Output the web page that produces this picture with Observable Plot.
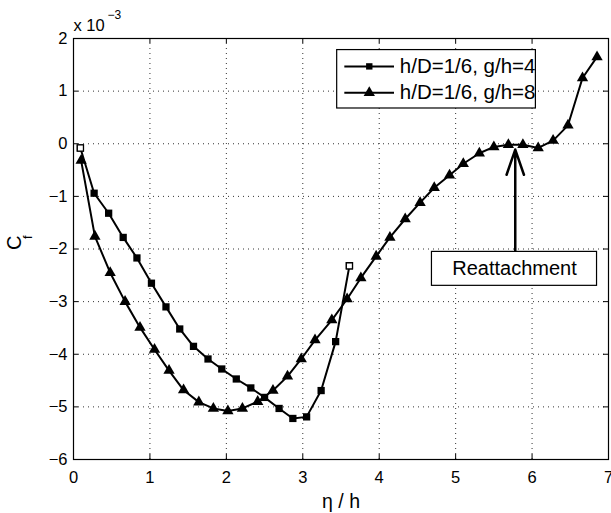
<!DOCTYPE html>
<html><head><meta charset="utf-8">
<script src="https://cdn.jsdelivr.net/npm/d3@7"></script>
<script src="https://cdn.jsdelivr.net/npm/@observablehq/plot@0.6"></script>
<style>
html,body{margin:0;padding:0;background:#fff;}
#chart{width:611px;height:513px;}
</style>
</head><body><div id="chart"></div>
<script>
// Data (Cf values in units of 1e-3)
const etaG4 = [0.09, 0.27, 0.46, 0.65, 0.83, 1.02, 1.21, 1.39, 1.57, 1.76, 1.94, 2.13, 2.32, 2.50, 2.69, 2.87, 3.05, 3.24, 3.43, 3.61];
const cfG4  = [-0.08, -0.94, -1.32, -1.78, -2.17, -2.65, -3.10, -3.52, -3.85, -4.09, -4.28, -4.47, -4.64, -4.82, -5.03, -5.22, -5.19, -4.69, -3.76, -2.32];
const etaG8 = [0.10, 0.28, 0.48, 0.675, 0.87, 1.06, 1.25, 1.44, 1.64, 1.83, 2.02, 2.21, 2.41, 2.61, 2.80, 2.98, 3.16, 3.38, 3.58, 3.76, 3.96, 4.14, 4.34, 4.535, 4.72, 4.92, 5.10, 5.31, 5.50, 5.69, 5.88, 6.08, 6.275, 6.47, 6.66, 6.85];
const cfG8  = [-0.32, -1.76, -2.45, -3.00, -3.49, -3.91, -4.31, -4.68, -4.91, -5.03, -5.08, -5.03, -4.90, -4.69, -4.42, -4.09, -3.73, -3.35, -2.95, -2.55, -2.14, -1.78, -1.43, -1.12, -0.835, -0.60, -0.38, -0.18, -0.06, -0.02, -0.02, -0.08, 0.06, 0.35, 1.25, 1.65];
const seriesNames = ["h/D=1/6, g/h=4", "h/D=1/6, g/h=8"];
const xTicks = [0, 1, 2, 3, 4, 5, 6, 7];
const yTicks = [-6, -5, -4, -3, -2, -1, 0, 1, 2];
const xLabel = "η / h";
const scaleText = ["x 10", "−3"];
const annotationText = "Reattachment";
const reattachEta = 5.78;

const g4 = etaG4.map((x, i) => ({x, y: cfG4[i], i}));
const g8 = etaG8.map((x, i) => ({x, y: cfG8[i]}));
const g4Ends = g4.filter(d => d.i === 0 || d.i === g4.length - 1);

const W = 611, H = 513, mL = 73, mR = 3, mT = 38, mB = 54;
const fw = W - mL - mR, fh = H - mT - mB;
const font = "'Liberation Sans', Arial, Helvetica, sans-serif";
const fmt = d => (d < 0 ? "−" : "") + Math.abs(d);

// legend / annotation geometry (data units)
const lg = {x1: 3.45, x2: 6.05, yTop: 1.78, yBot: 0.67, rows: [1.47, 0.97], lx1: 3.55, lx2: 4.20, mx: 3.87, tx: 4.27};
const ra = {x1: 4.69, x2: 6.85, yTop: -2.055, yBot: -2.70, ty: -2.38, tip: -0.11};

const chart = Plot.plot({
  width: W, height: H,
  marginLeft: mL, marginRight: mR, marginTop: mT, marginBottom: mB,
  style: {fontFamily: font, fontSize: "16.5px", background: "#fff", color: "#000"},
  x: {domain: [0, 7], ticks: xTicks},
  y: {domain: [-6, 2], ticks: yTicks},
  marks: [
    // dotted grid
    Plot.ruleX(xTicks.slice(1, -1), {stroke: "#333", strokeWidth: 1, strokeDasharray: "1,4"}),
    Plot.ruleY(yTicks.slice(1, -1), {stroke: "#333", strokeWidth: 1, strokeDasharray: "1,4"}),
    // inner ticks on all sides
    Plot.tickX(xTicks, {x: d => d, insetTop: fh - 5, stroke: "#000"}),
    Plot.tickX(xTicks, {x: d => d, insetBottom: fh - 5, stroke: "#000"}),
    Plot.tickY(yTicks, {y: d => d, insetLeft: fw - 5, stroke: "#000"}),
    Plot.tickY(yTicks, {y: d => d, insetRight: fw - 5, stroke: "#000"}),
    Plot.frame({stroke: "#000", strokeWidth: 1.2}),
    Plot.axisX({ticks: xTicks, tickFormat: fmt, tickSize: 0, tickPadding: 12, label: null, fontSize: 16.5}),
    Plot.axisY({ticks: yTicks, tickFormat: fmt, tickSize: 0, tickPadding: 6, label: null, fontSize: 16.5}),
    // axis labels
    Plot.text([xLabel], {frameAnchor: "bottom", dy: 42, text: d => d, fontSize: 19.5, lineAnchor: "middle"}),
    Plot.text(["C"], {frameAnchor: "left", dx: -59, dy: 1, rotate: -90, text: d => d, fontSize: 20, lineAnchor: "middle"}),
    Plot.text(["f"], {frameAnchor: "left", dx: -46, dy: -10, rotate: -90, text: d => d, fontSize: 12.5, lineAnchor: "middle"}),
    Plot.text([scaleText[0]], {frameAnchor: "top-left", textAnchor: "start", dx: 0, dy: -13, text: d => d, fontSize: 16.5, lineAnchor: "middle"}),
    Plot.text([scaleText[1]], {frameAnchor: "top-left", textAnchor: "start", dx: 34, dy: -23, text: d => d, fontSize: 12, lineAnchor: "middle"}),
    // series
    Plot.line(g4, {x: "x", y: "y", stroke: "#000", strokeWidth: 2}),
    Plot.dot(g4, {x: "x", y: "y", symbol: "square", r: 4.1, fill: "#000"}),
    Plot.dot(g4Ends, {x: "x", y: "y", symbol: "square", r: 3.5, fill: "#fff", stroke: "#000", strokeWidth: 1.3}),
    Plot.line(g8, {x: "x", y: "y", stroke: "#000", strokeWidth: 2}),
    Plot.dot(g8, {x: "x", y: "y", symbol: "triangle", r: 4.2, fill: "#000"}),
    // legend
    Plot.rect([0], {x1: lg.x1, x2: lg.x2, y1: lg.yBot, y2: lg.yTop, fill: "#fff", stroke: "#000", strokeWidth: 1.2}),
    Plot.ruleY(lg.rows, {x1: lg.lx1, x2: lg.lx2, y: d => d, stroke: "#000", strokeWidth: 2}),
    Plot.dot([lg.rows[0]], {x: lg.mx, y: d => d, symbol: "square", r: 3.6, fill: "#000"}),
    Plot.dot([lg.rows[1]], {x: lg.mx, y: d => d, symbol: "triangle", r: 4.2, fill: "#000"}),
    Plot.text(seriesNames, {x: lg.tx, y: (d, i) => lg.rows[i], text: d => d, textAnchor: "start", fontSize: 20.5, lineAnchor: "middle"}),
    // reattachment annotation
    Plot.arrow([0], {x1: reattachEta, x2: reattachEta, y1: ra.yTop, y2: ra.tip, stroke: "#000", strokeWidth: 2.5, headLength: 16, headAngle: 38}),
    Plot.rect([0], {x1: ra.x1, x2: ra.x2, y1: ra.yBot, y2: ra.yTop, fill: "#fff", stroke: "#000", strokeWidth: 1.2}),
    Plot.text([annotationText], {x: (ra.x1 + ra.x2) / 2, y: ra.ty, text: d => d, fontSize: 20, lineAnchor: "middle"})
  ]
});
document.getElementById("chart").appendChild(chart);
</script>
</body></html>
